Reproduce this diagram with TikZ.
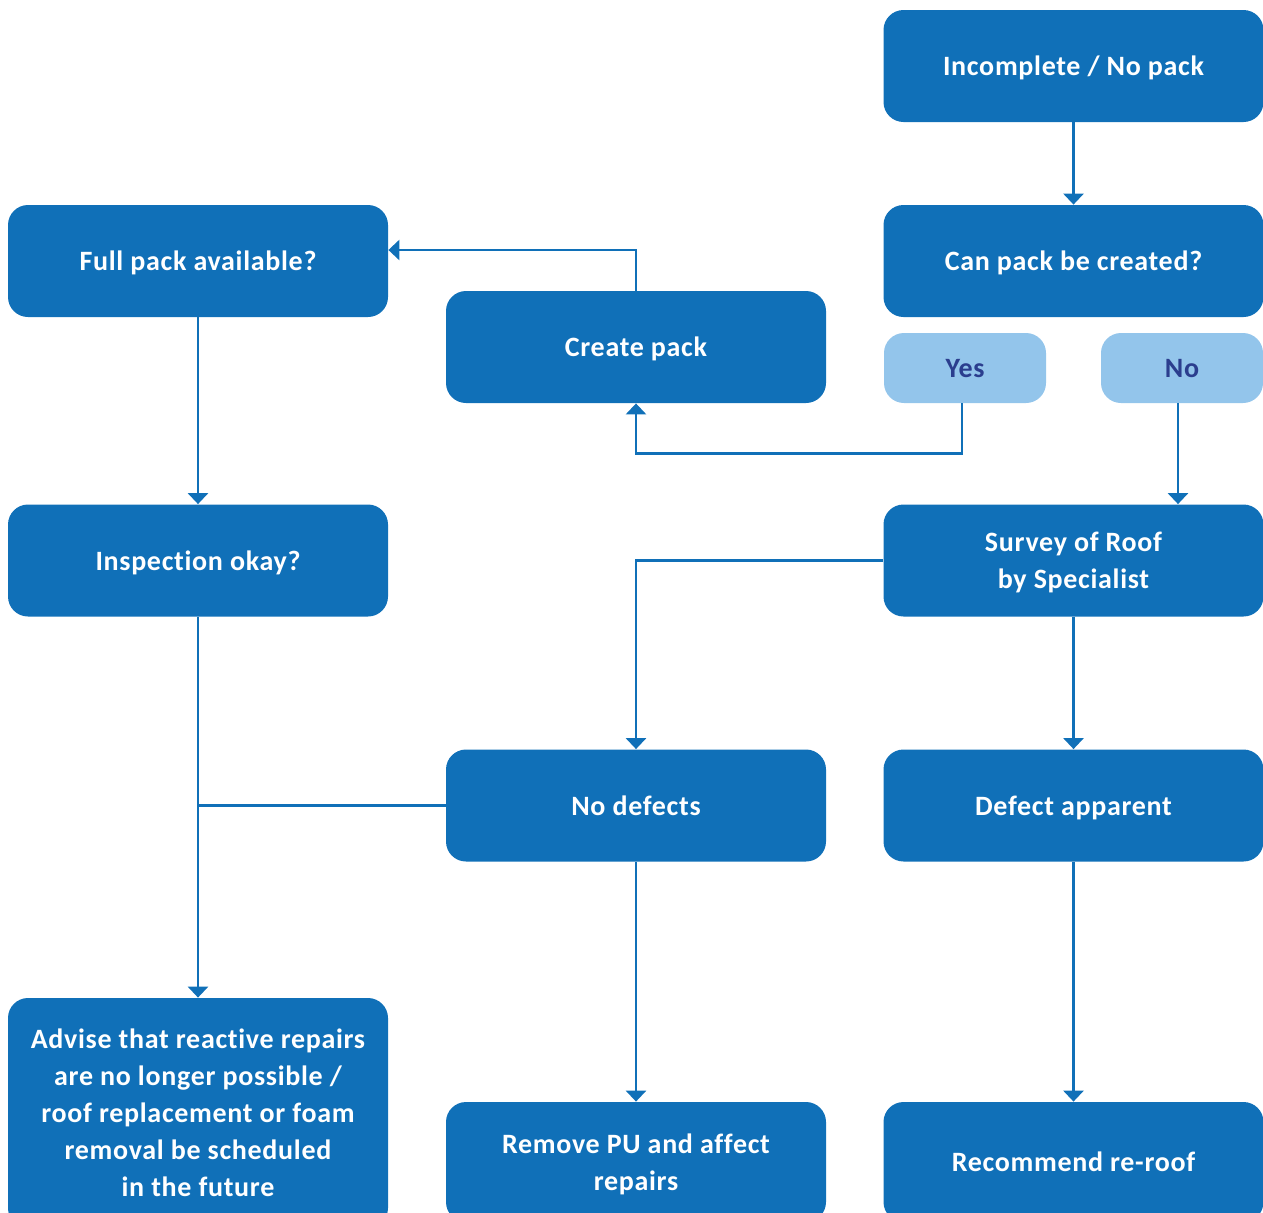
\documentclass[tikz,border=0pt]{standalone}
\usepackage{fontspec}
\setmainfont{Carlito}[LetterSpace=2.5, Ligatures=NoCommon]
\usetikzlibrary{arrows.meta,positioning}
\definecolor{boxblue}{HTML}{1070B8}
\definecolor{lightblue}{HTML}{93C5EB}
\definecolor{labeltext}{HTML}{2B3E8E}

\begin{document}
\begin{tikzpicture}[x=0.5pt,y=-0.5pt,
    stepbox/.style={fill=boxblue, rounded corners=10pt, minimum width=190pt,
        minimum height=56pt, inner sep=0pt, text=white, align=center,
        text depth=0pt, font=\bfseries\fontsize{14}{18.5}\selectfont},
    answer/.style={fill=lightblue, rounded corners=10pt, minimum width=81pt,
        minimum height=35pt, inner sep=0pt, text=labeltext, text depth=0pt,
        font=\bfseries\fontsize{14}{18.5}\selectfont},
    link/.style={draw=boxblue, line width=1.35pt},
    arrow/.style={link, -{Triangle[width=10pt,length=5.5pt]}}]
    \useasboundingbox (0,0) rectangle (1263,1212);

    % Top right: pack check
    \node[stepbox] (incomplete) at (1073.5,66) {Incomplete / No pack};
    \node[stepbox] (canpack) at (1073.5,261) {Can pack be created?};
    \node[answer] (yes) at (965,368) {Yes};
    \node[answer] (no) at (1182,368) {No};

    % Left column
    \node[stepbox] (fullpack) at (198,261) {Full pack available?};
    \node[stepbox] (inspect) at (198,560.5) {Inspection okay?};
    \node[stepbox, minimum height=115pt] (advise) at (198,1113)
        {Advise that reactive repairs\\are no longer possible /\\roof replacement or foam\\removal be scheduled\\in the future};

    % Middle column
    \node[stepbox] (createpack) at (636,347) {Create pack};
    \node[stepbox] (nodefects) at (636,805.5) {No defects};
    \node[stepbox, minimum height=60pt] (removepu) at (636,1162) {Remove PU and affect\\repairs};

    % Right column
    \node[stepbox] (survey) at (1073.5,560.5) {Survey of Roof\\by Specialist};
    \node[stepbox] (defect) at (1073.5,805.5) {Defect apparent};
    \node[stepbox, minimum height=60pt] (reroof) at (1073.5,1162) {Recommend re-roof};

    % Connectors
    \draw[arrow] (incomplete) -- (canpack);
    \draw[arrow] (createpack.north) |- ([yshift=5.5pt]fullpack.east);
    \draw[arrow] ([xshift=-1.5pt]yes.south) -- ++(0,50) -| (createpack.south);
    \draw[arrow] ([xshift=-2pt]no.south) -- ([xshift=-2pt]no.south |- survey.north);
    \draw[arrow] (fullpack) -- (inspect);
    \draw[arrow] (survey.west) -| (nodefects.north);
    \draw[arrow] (survey) -- (defect);
    \draw[arrow] (inspect) -- (advise);
    \draw[link] (nodefects.west) -- (nodefects.west -| inspect.south);
    \draw[arrow] (nodefects) -- (removepu);
    \draw[arrow] (defect) -- (reroof);
\end{tikzpicture}
\end{document}
